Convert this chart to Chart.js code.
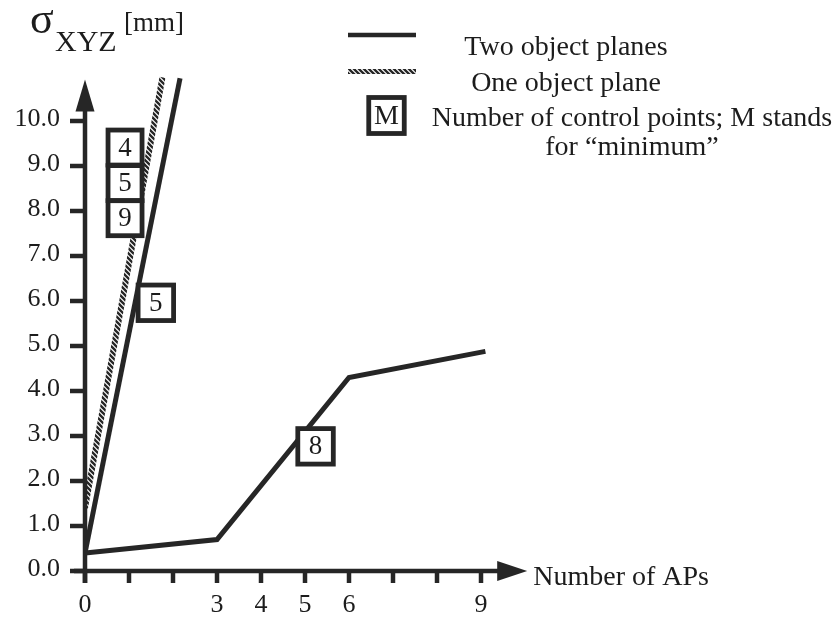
<!DOCTYPE html>
<html>
<head>
<meta charset="utf-8">
<script src="https://cdn.jsdelivr.net/npm/chart.js@4.4.0/dist/chart.umd.min.js"></script>
<style>
  html, body { margin: 0; padding: 0; background: #fff; }
  canvas { display: block; }
</style>
</head>
<body>
<canvas id="apChart" width="836" height="618"></canvas>
<script>
// sigma_XYZ [mm] against the number of additional parameters (APs)

// two object planes: 8 control points
const twoPlanesAPs = [0, 3, 6, 9.1];
const twoPlanesSigma = [0.4, 0.7, 4.3, 4.88];
// two object planes: minimum number of control points
const twoPlanesMinAPs = [0, 2.16];
const twoPlanesMinSigma = [0.4, 10.95];
// one object plane
const onePlaneAPs = [0, 1.76];
const onePlaneSigma = [1.4, 10.97];

const xTickValues = [0, 1, 2, 3, 4, 5, 6, 7, 8, 9];
const xTickLabels = ['0', '', '', '3', '4', '5', '6', '', '', '9'];
const yTickValues = [0, 1, 2, 3, 4, 5, 6, 7, 8, 9, 10];
const yTickLabels = ['0.0', '1.0', '2.0', '3.0', '4.0', '5.0', '6.0', '7.0', '8.0', '9.0', '10.0'];

// boxed control point counts next to the curves
const tagLabels = ['4', '5', '9', '5', '8'];
const tagAPs = [0.91, 0.91, 0.91, 1.61, 5.24];
const tagSigma = [9.41, 8.62, 7.84, 5.96, 2.77];

const INK = '#262626';
const TEXT = '#1c1c1c';
const SERIF = '"Liberation Serif", "Times New Roman", serif';

function toPoints(xs, ys) {
    return xs.map((x, i) => ({ x: x, y: ys[i] }));
}

// small "\\\\" hatch used for the one-plane curve
function makeHatch() {
    const c = document.createElement('canvas');
    c.width = 5; c.height = 5;
    const g = c.getContext('2d');
    g.strokeStyle = INK;
    g.lineWidth = 2.3;
    g.beginPath();
    g.moveTo(-1, -1); g.lineTo(6, 6);
    g.moveTo(-1, 4); g.lineTo(1, 6);
    g.moveTo(4, -1); g.lineTo(6, 1);
    g.stroke();
    return g.createPattern(c, 'repeat');
}
const hatch = makeHatch();

function box(ctx, cx, cy, w, h, text, size) {
    ctx.save();
    ctx.fillStyle = '#fff';
    ctx.fillRect(cx - w / 2, cy - h / 2, w, h);
    ctx.strokeStyle = INK;
    ctx.lineWidth = 4.8;
    ctx.strokeRect(cx - w / 2, cy - h / 2, w, h);
    ctx.fillStyle = TEXT;
    ctx.font = size + 'px ' + SERIF;
    ctx.textAlign = 'center';
    ctx.textBaseline = 'middle';
    ctx.fillText(text, cx, cy + 1);
    ctx.restore();
}

const axesPlugin = {
    id: 'arrowAxes',
    beforeDatasetsDraw(chart) {
        const ctx = chart.ctx;
        const xs = chart.scales.x, ys = chart.scales.y;
        const x0 = xs.getPixelForValue(0), y0 = ys.getPixelForValue(0);
        ctx.save();
        ctx.strokeStyle = INK;
        ctx.fillStyle = INK;
        ctx.lineWidth = 4.5;

        // y axis with arrow
        const yTip = ys.getPixelForValue(10.92);
        ctx.beginPath();
        ctx.moveTo(x0, y0 + 12);
        ctx.lineTo(x0, yTip + 28);
        ctx.stroke();
        ctx.beginPath();
        ctx.moveTo(x0, yTip);
        ctx.lineTo(x0 - 9.5, yTip + 32);
        ctx.lineTo(x0 + 9.5, yTip + 32);
        ctx.closePath();
        ctx.fill();

        // x axis with arrow
        const xTip = xs.getPixelForValue(10.05);
        ctx.beginPath();
        ctx.moveTo(x0 - 11, y0);
        ctx.lineTo(xTip - 26, y0);
        ctx.stroke();
        ctx.beginPath();
        ctx.moveTo(xTip, y0);
        ctx.lineTo(xTip - 30, y0 - 10);
        ctx.lineTo(xTip - 30, y0 + 10);
        ctx.closePath();
        ctx.fill();

        // ticks and labels
        ctx.font = '26px ' + SERIF;
        ctx.fillStyle = TEXT;
        ctx.textAlign = 'right';
        ctx.textBaseline = 'middle';
        yTickValues.forEach((v, i) => {
            const py = ys.getPixelForValue(v);
            ctx.beginPath();
            ctx.moveTo(x0 - 15, py);
            ctx.lineTo(x0, py);
            ctx.stroke();
            ctx.fillText(yTickLabels[i], x0 - 25, py - 2);
        });
        ctx.textAlign = 'center';
        xTickValues.forEach((v, i) => {
            const px = xs.getPixelForValue(v);
            ctx.beginPath();
            ctx.moveTo(px, y0);
            ctx.lineTo(px, y0 + 12);
            ctx.stroke();
            if (xTickLabels[i]) ctx.fillText(xTickLabels[i], px, y0 + 34);
        });

        // axis titles
        ctx.textAlign = 'left';
        ctx.textBaseline = 'alphabetic';
        ctx.font = '28px ' + SERIF;
        ctx.fillText('Number of APs', xTip + 6, y0 + 14);
        ctx.font = '44px ' + SERIF;
        ctx.fillText('σ', 30, 33);
        ctx.font = '30px ' + SERIF;
        ctx.fillText('XYZ', 55, 51);
        ctx.font = '27px ' + SERIF;
        ctx.fillText('[mm]', 124, 31);
        ctx.restore();
    },
    afterDatasetsDraw(chart) {
        const ctx = chart.ctx;
        const xs = chart.scales.x, ys = chart.scales.y;
        tagLabels.forEach((t, i) => {
            const w = i < 3 ? 34 : 35.5;
            const h = i < 3 ? 35 : 35.5;
            box(ctx, xs.getPixelForValue(tagAPs[i]), ys.getPixelForValue(tagSigma[i]), w, h, t, 27);
        });

        // key in the upper right
        ctx.save();
        ctx.lineWidth = 4.5;
        ctx.strokeStyle = INK;
        ctx.beginPath();
        ctx.moveTo(348, 35);
        ctx.lineTo(416, 35);
        ctx.stroke();
        ctx.lineWidth = 5;
        ctx.strokeStyle = hatch;
        ctx.beginPath();
        ctx.moveTo(348, 71.5);
        ctx.lineTo(416, 71.5);
        ctx.stroke();
        ctx.restore();
        box(ctx, 386.5, 115.5, 35.5, 36, 'M', 28);

        ctx.save();
        ctx.fillStyle = TEXT;
        ctx.font = '28px ' + SERIF;
        ctx.textAlign = 'center';
        ctx.textBaseline = 'alphabetic';
        ctx.fillText('Two object planes', 566, 55);
        ctx.fillText('One object plane', 566, 91);
        ctx.fillText('Number of control points; M stands', 632, 126);
        ctx.fillText('for \u201cminimum\u201d', 632, 155);
        ctx.restore();
    }
};

const lineStyle = {
    showLine: true,
    pointRadius: 0,
    borderWidth: 5,
    borderJoinStyle: 'miter',
    fill: false
};

new Chart(document.getElementById('apChart'), {
    type: 'scatter',
    data: {
        datasets: [
            Object.assign({ label: 'Two object planes', data: toPoints(twoPlanesAPs, twoPlanesSigma), borderColor: INK }, lineStyle),
            Object.assign({ label: 'Two object planes (minimum)', data: toPoints(twoPlanesMinAPs, twoPlanesMinSigma), borderColor: INK }, lineStyle),
            Object.assign({ label: 'One object plane', data: toPoints(onePlaneAPs, onePlaneSigma), borderColor: hatch }, lineStyle, { borderWidth: 6 })
        ]
    },
    options: {
        responsive: false,
        animation: false,
        layout: { padding: { left: 85, right: 311, top: 76, bottom: 47 } },
        plugins: { legend: { display: false }, tooltip: { enabled: false } },
        scales: {
            x: { type: 'linear', min: 0, max: 10, display: false },
            y: { type: 'linear', min: 0, max: 11, display: false }
        }
    },
    plugins: [axesPlugin]
});
</script>
</body>
</html>
